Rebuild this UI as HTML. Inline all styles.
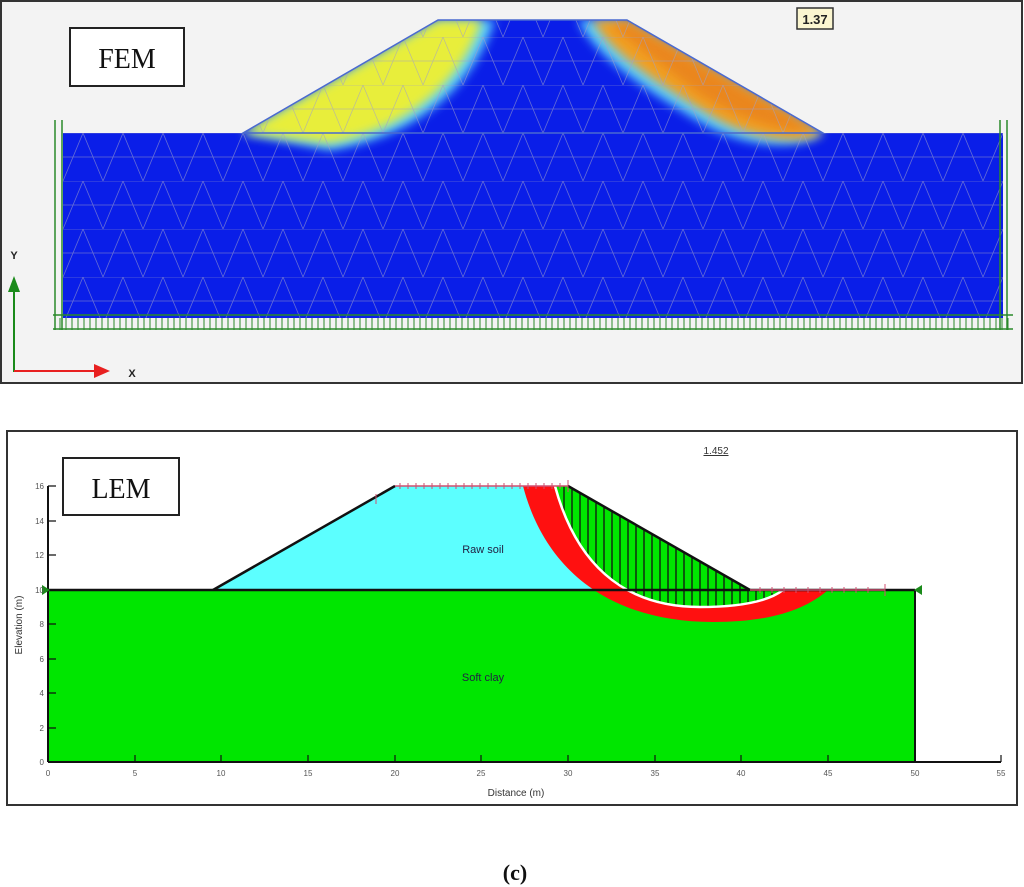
<!DOCTYPE html>
<html><head><meta charset="utf-8"><style>
html,body{margin:0;padding:0;background:#fff;}
svg{display:block;}
text{font-family:"Liberation Sans",sans-serif;}
</style></head><body>
<svg width="1024" height="887" viewBox="0 0 1024 887" xmlns="http://www.w3.org/2000/svg">
<defs>
<pattern id="mesh" width="40" height="48" patternUnits="userSpaceOnUse" x="63" y="133">
<path d="M0,0H40M0,48L20,0L40,48M0,24H40" stroke="#a0a0c8" stroke-width="0.8" fill="none" opacity="0.6"/>
</pattern>
<filter id="bl" x="-20%" y="-20%" width="140%" height="140%"><feGaussianBlur stdDeviation="5"/></filter>
<clipPath id="emb"><polygon points="438,20 627,20 823,133 243,133"/><rect x="63" y="133" width="940" height="185"/></clipPath>
<clipPath id="hatch"><path d="M555,486 C575,560 620,607 700,607 C745,607 770,600 783,590 L747,589 L568,486 Z"/></clipPath>
</defs>
<!-- top panel -->
<rect x="1" y="1" width="1021" height="382" fill="#f3f3f3" stroke="#333" stroke-width="2"/>
<rect x="63" y="133" width="940" height="185" fill="#0a1ee8"/>
<polygon points="438,20 627,20 823,133 243,133" fill="#0a1ee8"/>
<g clip-path="url(#emb)">
<path d="M438,20 L495,20 C475,80 425,135 330,150 L243,133 Z" fill="#5ad0ff" filter="url(#bl)"/>
<path d="M438,20 L482,20 C462,80 412,128 330,143 L243,133 Z" fill="#e8ee3a" filter="url(#bl)"/>
<path d="M578,20 L627,20 L823,133 C800,152 740,147 700,122 C650,92 598,60 578,20 Z" fill="#5ad0ff" filter="url(#bl)"/>
<path d="M592,20 L627,20 L823,133 C800,145 750,140 710,115 C660,85 612,55 592,20 Z" fill="#f2a020" filter="url(#bl)"/>
<path d="M610,25 L627,22 L815,130 C790,135 740,120 700,95 Z" fill="#e8801a" filter="url(#bl)" opacity="0.8"/>
<rect x="0" y="0" width="1024" height="400" fill="url(#mesh)"/>
</g>
<polygon points="438,20 627,20 823,133 243,133" fill="none" stroke="#4a6ad0" stroke-width="1.5"/>
<g stroke="#2a8a2a" stroke-width="1.5" fill="none">
<path d="M53,315H1013M53,329H1013M55,120V330M62,120V330M1000,120V330M1007,120V330"/>
<path d="M60,318V330M66,318V330M72,318V330M78,318V330M84,318V330M90,318V330M96,318V330M102,318V330M108,318V330M114,318V330M120,318V330M126,318V330M132,318V330M138,318V330M144,318V330M150,318V330M156,318V330M162,318V330M168,318V330M174,318V330M180,318V330M186,318V330M192,318V330M198,318V330M204,318V330M210,318V330M216,318V330M222,318V330M228,318V330M234,318V330M240,318V330M246,318V330M252,318V330M258,318V330M264,318V330M270,318V330M276,318V330M282,318V330M288,318V330M294,318V330M300,318V330M306,318V330M312,318V330M318,318V330M324,318V330M330,318V330M336,318V330M342,318V330M348,318V330M354,318V330M360,318V330M366,318V330M372,318V330M378,318V330M384,318V330M390,318V330M396,318V330M402,318V330M408,318V330M414,318V330M420,318V330M426,318V330M432,318V330M438,318V330M444,318V330M450,318V330M456,318V330M462,318V330M468,318V330M474,318V330M480,318V330M486,318V330M492,318V330M498,318V330M504,318V330M510,318V330M516,318V330M522,318V330M528,318V330M534,318V330M540,318V330M546,318V330M552,318V330M558,318V330M564,318V330M570,318V330M576,318V330M582,318V330M588,318V330M594,318V330M600,318V330M606,318V330M612,318V330M618,318V330M624,318V330M630,318V330M636,318V330M642,318V330M648,318V330M654,318V330M660,318V330M666,318V330M672,318V330M678,318V330M684,318V330M690,318V330M696,318V330M702,318V330M708,318V330M714,318V330M720,318V330M726,318V330M732,318V330M738,318V330M744,318V330M750,318V330M756,318V330M762,318V330M768,318V330M774,318V330M780,318V330M786,318V330M792,318V330M798,318V330M804,318V330M810,318V330M816,318V330M822,318V330M828,318V330M834,318V330M840,318V330M846,318V330M852,318V330M858,318V330M864,318V330M870,318V330M876,318V330M882,318V330M888,318V330M894,318V330M900,318V330M906,318V330M912,318V330M918,318V330M924,318V330M930,318V330M936,318V330M942,318V330M948,318V330M954,318V330M960,318V330M966,318V330M972,318V330M978,318V330M984,318V330M990,318V330M996,318V330M1002,318V330M1008,318V330" stroke-width="1"/>
</g>
<rect x="70" y="28" width="114" height="58" fill="#fff" stroke="#222" stroke-width="2"/>
<text x="127" y="68" font-size="28" text-anchor="middle" fill="#111" style="font-family:'Liberation Serif',serif">FEM</text>
<rect x="797" y="8" width="36" height="21" fill="#fbf6d0" stroke="#333" stroke-width="1.5"/>
<text x="815" y="24" font-size="13" font-weight="bold" text-anchor="middle" fill="#222">1.37</text>
<path d="M14,372V288" stroke="#1a8a1a" stroke-width="2"/>
<polygon points="14,276 8,292 20,292" fill="#1a8a1a"/>
<text x="14" y="259" font-size="11" font-weight="bold" text-anchor="middle" fill="#222">Y</text>
<path d="M14,371H96" stroke="#e82020" stroke-width="2"/>
<polygon points="110,371 94,364 94,378" fill="#e82020"/>
<text x="132" y="377" font-size="11" font-weight="bold" text-anchor="middle" fill="#222">X</text>

<!-- bottom panel -->
<rect x="7" y="431" width="1010" height="374" fill="#fff" stroke="#333" stroke-width="2"/>
<polygon points="213,590 395,486 568,486 750,590" fill="#5cffff"/>
<rect x="48" y="590" width="867" height="172" fill="#00e600"/>
<path d="M523,486 C545,570 610,622 713,622 C770,622 805,610 828,590 L783,590 C770,600 745,607 700,607 C620,607 575,560 555,486 Z" fill="#ff1010"/>
<path d="M555,486 C575,560 620,607 700,607 C745,607 770,600 783,590 L747,589 L568,486 Z" fill="#00e600"/>
<g stroke="#111" stroke-width="1.3" clip-path="url(#hatch)">
<path d="M564,480V620M572,480V620M580,480V620M588,480V620M596,480V620M604,480V620M612,480V620M620,480V620M628,480V620M636,480V620M644,480V620M652,480V620M660,480V620M668,480V620M676,480V620M684,480V620M692,480V620M700,480V620M708,480V620M716,480V620M724,480V620M732,480V620M740,480V620M748,480V620M756,480V620M764,480V620M772,480V620"/>
</g>
<path d="M555,486 C575,560 620,607 700,607 C745,607 770,600 783,590" fill="none" stroke="#fff" stroke-width="2.5"/>
<path d="M213,590 L395,486 M568,486 L750,590" stroke="#111" stroke-width="2.5" fill="none"/>
<path d="M48,590H915" stroke="#111" stroke-width="2.5"/>
<path d="M395,486H568M750,590H885" stroke="#d05070" stroke-width="1.5"/>
<g stroke="#d05070" stroke-width="1"><path d="M400,483V489M408,483V489M416,483V489M424,483V489M432,483V489M440,483V489M448,483V489M456,483V489M464,483V489M472,483V489M480,483V489M488,483V489M496,483V489M504,483V489M512,483V489M520,483V489M528,483V489M536,483V489M544,483V489M552,483V489M560,483V489M568,480V492M376,494V504M760,587V593M772,587V593M784,587V593M796,587V593M808,587V593M820,587V593M832,587V593M844,587V593M856,587V593M868,587V593M885,584V596"/></g>
<path d="M48,486V762M48,762H1001M915,590V762" stroke="#111" stroke-width="2"/>
<g stroke="#111" stroke-width="1.2">
<path d="M48,486H56M48,521H56M48,555H56M48,590H56M48,624H56M48,659H56M48,693H56M48,728H56"/>
<path d="M135,762V755M221,762V755M308,762V755M395,762V755M481,762V755M568,762V755M655,762V755M741,762V755M828,762V755M915,762V755M1001,762V755"/>
</g>
<polygon points="42,585 50,590 42,595" fill="#1a8a1a"/>
<polygon points="922,585 914,590 922,595" fill="#1a8a1a"/>
<g font-size="8" fill="#555" text-anchor="end">
<text x="44" y="489">16</text><text x="44" y="524">14</text><text x="44" y="558">12</text><text x="44" y="593">10</text><text x="44" y="627">8</text><text x="44" y="662">6</text><text x="44" y="696">4</text><text x="44" y="731">2</text><text x="44" y="765">0</text>
</g>
<g font-size="8" fill="#555" text-anchor="middle">
<text x="48" y="776">0</text><text x="135" y="776">5</text><text x="221" y="776">10</text><text x="308" y="776">15</text><text x="395" y="776">20</text><text x="481" y="776">25</text><text x="568" y="776">30</text><text x="655" y="776">35</text><text x="741" y="776">40</text><text x="828" y="776">45</text><text x="915" y="776">50</text><text x="1001" y="776">55</text>
</g>
<text x="516" y="796" font-size="10" fill="#333" text-anchor="middle">Distance (m)</text>
<text transform="translate(22,625) rotate(-90)" font-size="10" fill="#333" text-anchor="middle">Elevation (m)</text>
<text x="483" y="553" font-size="11" fill="#224" text-anchor="middle">Raw soil</text>
<text x="483" y="681" font-size="11" fill="#224" text-anchor="middle">Soft clay</text>
<text x="716" y="454" font-size="10" fill="#333" text-anchor="middle" text-decoration="underline">1.452</text>
<rect x="63" y="458" width="116" height="57" fill="#fff" stroke="#222" stroke-width="2"/>
<text x="121" y="498" font-size="28" text-anchor="middle" fill="#111" style="font-family:'Liberation Serif',serif">LEM</text>
<text x="515" y="880" font-size="22" font-weight="bold" text-anchor="middle" fill="#111" style="font-family:'Liberation Serif',serif">(c)</text>
</svg>
</body></html>
